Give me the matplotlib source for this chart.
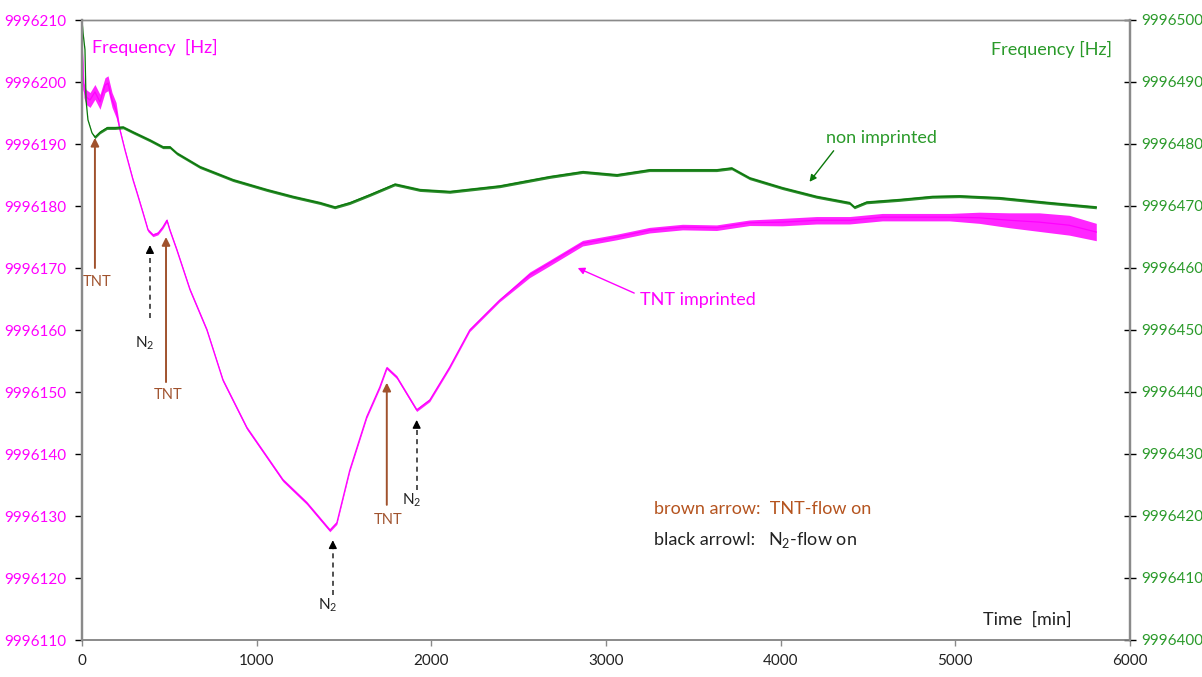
import matplotlib
matplotlib.use("Agg")
from matplotlib import pyplot as plt
from matplotlib.ticker import MultipleLocator

plt.rcParams['font.family'] = ['Lato', 'DejaVu Sans']
plt.rcParams['mathtext.fontset'] = 'custom'
plt.rcParams['mathtext.rm'] = 'Lato'

# TNT imprinted sensor (left axis), time in min, frequency in Hz
mag_t = [0, 11, 23, 46, 74, 103, 132, 149, 172, 195, 217, 246, 292, 315, 349,
         378, 406, 435, 463, 486, 503, 543, 618, 715, 807, 944, 1150, 1287, 1419, 1459,
         1533, 1630, 1705, 1745, 1802, 1916, 1991, 2105, 2220, 2391, 2563, 2677, 2866, 3061, 3249,
         3438, 3633, 3822, 4010, 4205, 4394, 4582, 4777, 4966, 5137, 5309, 5480, 5652, 5807]
mag_f = [9996206.0, 9996198.7, 9996197.6, 9996197.1, 9996198.4, 9996196.8, 9996199.5, 9996199.8,
         9996197.1, 9996195.5, 9996192.3, 9996189.0, 9996184.2, 9996182.1, 9996178.9, 9996176.1,
         9996175.3, 9996175.6, 9996176.6, 9996177.7, 9996176.1, 9996172.9, 9996166.5, 9996160.0,
         9996151.9, 9996144.2, 9996135.8, 9996132.1, 9996127.7, 9996128.9, 9996137.4, 9996146.0,
         9996150.8, 9996153.9, 9996152.4, 9996147.1, 9996148.7, 9996154.0, 9996160.0, 9996164.8,
         9996168.9, 9996170.8, 9996174.0, 9996175.0, 9996176.1, 9996176.6, 9996176.5, 9996177.3,
         9996177.4, 9996177.7, 9996177.7, 9996178.2, 9996178.2, 9996178.2, 9996178.1, 9996177.7,
         9996177.4, 9996176.9, 9996175.8]
# half width of the noise band seen in the picture
mag_noise = [1.2] * 10 + [0.25] * 30 + [0.45] * 8 + [0.6] * 6 + [0.9, 1.2, 1.5, 1.6, 1.4]

# non imprinted sensor (right axis)
grn_t = [0, 6, 17, 23, 34, 57, 74, 103, 143, 189, 235, 292, 389, 463, 503,
         543, 675, 864, 1058, 1207, 1362, 1447, 1533, 1648, 1791, 1934, 2105, 2391, 2677, 2866,
         3061, 3249, 3438, 3633, 3719, 3822, 4010, 4205, 4394, 4422, 4491, 4680, 4868, 5023, 5252,
         5538, 5807]
grn_f = [9996500.0, 9996497.9, 9996495.2, 9996487.1, 9996483.9, 9996481.8, 9996481.1, 9996481.9,
         9996482.6, 9996482.6, 9996482.7, 9996481.9, 9996480.6, 9996479.5, 9996479.5, 9996478.5,
         9996476.3, 9996474.2, 9996472.6, 9996471.5, 9996470.5, 9996469.8, 9996470.5, 9996471.8,
         9996473.5, 9996472.6, 9996472.3, 9996473.2, 9996474.7, 9996475.5, 9996475.0, 9996475.8,
         9996475.8, 9996475.8, 9996476.1, 9996474.5, 9996472.9, 9996471.5, 9996470.5, 9996469.8,
         9996470.6, 9996471.0, 9996471.5, 9996471.6, 9996471.3, 9996470.5, 9996469.8]
grn_noise = [0.05] * 6 + [0.25] * 41

# flow switching events: (time, arrow tip, arrow tail, label y) on left axis
tnt_events = [(74, 9996191.0, 9996170.0, 9996167.7),
              (481, 9996175.0, 9996151.6, 9996149.5),
              (1745, 9996151.5, 9996131.8, 9996129.4)]
n2_events = [(389, 9996173.7, 9996161.9, 9996157.9),
             (1436, 9996126.1, 9996117.3, 9996115.6),
             (1916, 9996145.5, 9996134.2, 9996132.6)]

MAG = '#ff00ff'
GRN_LINE = '#0a780a'
GRN_TXT = '#2a9a2a'
BROWN = '#a0522d'
GRAY = '#8a8a8a'

fig = plt.figure(figsize=(12.02, 6.77), dpi=100)
ax1 = fig.add_axes([82 / 1202, 37 / 677, 1048 / 1202, 620 / 677])
ax2 = ax1.twinx()

ax1.fill_between(mag_t, [f - n for f, n in zip(mag_f, mag_noise)],
                 [f + n for f, n in zip(mag_f, mag_noise)], color=MAG, lw=0, alpha=0.85)
ax1.plot(mag_t, mag_f, color=MAG, lw=0.9)
ax2.fill_between(grn_t, [f - n for f, n in zip(grn_f, grn_noise)],
                 [f + n for f, n in zip(grn_f, grn_noise)], color=GRN_LINE, lw=0, alpha=0.85)
ax2.plot(grn_t, grn_f, color=GRN_LINE, lw=0.9)

ax1.set_xlim(0, 6000)
ax1.set_ylim(9996110, 9996210)
ax2.set_ylim(9996400, 9996500)
ax1.xaxis.set_major_locator(MultipleLocator(1000))
ax1.yaxis.set_major_locator(MultipleLocator(10))
ax2.yaxis.set_major_locator(MultipleLocator(10))
ax1.ticklabel_format(useOffset=False, style='plain')
ax2.ticklabel_format(useOffset=False, style='plain')

for ax in (ax1, ax2):
    for s in ax.spines.values():
        s.set_color(GRAY)
    ax.spines['left'].set_linewidth(1.6)
    ax.spines['right'].set_linewidth(1.6)
    ax.spines['top'].set_linewidth(1.0)
    ax.spines['bottom'].set_linewidth(1.2)

ax1.tick_params(axis='y', direction='out', length=5, width=1, color='black',
                labelcolor=MAG, labelsize=11, pad=6)
ax1.tick_params(axis='x', direction='out', length=4, width=1, color=GRAY,
                labelcolor='#222222', labelsize=11, pad=6)
ax2.tick_params(axis='y', direction='inout', length=8, width=1, color='black',
                labelcolor=GRN_TXT, labelsize=11, pad=4)

# axis titles inside the plot
ax1.text(0.01, 0.955, 'Frequency  [Hz]', transform=ax1.transAxes, color=MAG,
         fontsize=13, va='center', ha='left')
ax1.text(0.983, 0.952, 'Frequency [Hz]', transform=ax1.transAxes, color=GRN_TXT,
         fontsize=13, va='center', ha='right')
ax1.text(0.944, 0.032, 'Time  [min]', transform=ax1.transAxes, color='#222222',
         fontsize=13, va='center', ha='right')

# event arrows
for t, tip, tail, ly in tnt_events:
    ax1.annotate('', xy=(t, tip), xytext=(t, tail),
                 arrowprops=dict(arrowstyle='-|>', color=BROWN, lw=1.4,
                                 mutation_scale=12, shrinkA=0, shrinkB=0))
    ax1.text(t + 10, ly, 'TNT', color=BROWN, fontsize=10.5, ha='center', va='center')
for t, tip, tail, ly in n2_events:
    ax1.plot([t, t], [tail, tip - 1.0], color='#333333', lw=1.2, ls=(0, (3, 2.5)))
    ax1.annotate('', xy=(t, tip), xytext=(t, tip - 1.2),
                 arrowprops=dict(arrowstyle='-|>', color='black', lw=1.0,
                                 mutation_scale=12, shrinkA=0, shrinkB=0))
    ax1.text(t - 30, ly, r'N$_\mathregular{2}$', color='#222222', fontsize=11,
             ha='center', va='center')

# curve labels
ax1.annotate('TNT imprinted', xy=(2838, 9996170.0), xytext=(3192, 9996164.8),
             color=MAG, fontsize=13, va='center', ha='left',
             arrowprops=dict(arrowstyle='-|>', color=MAG, lw=1.0, mutation_scale=10,
                             shrinkA=2, shrinkB=0, relpos=(0, 0.8)))
ax2.annotate('non imprinted', xy=(4165, 9996473.9), xytext=(4262, 9996481.0),
             color=GRN_TXT, fontsize=13, va='center', ha='left',
             arrowprops=dict(arrowstyle='-|>', color=GRN_LINE, lw=1.0, mutation_scale=10,
                             shrinkA=2, shrinkB=0, relpos=(0.1, 0)))

# legend text for the arrows
ax1.text(0.546, 0.211, 'brown arrow:  TNT-flow on', transform=ax1.transAxes,
         color='#b5541f', fontsize=13, va='center', ha='left')
ax1.text(0.546, 0.161, 'black arrowl:', transform=ax1.transAxes,
         color='#222222', fontsize=13, va='center', ha='left')
ax1.text(0.655, 0.161, r'N$_\mathregular{2}$-flow on', transform=ax1.transAxes,
         color='#222222', fontsize=13, va='center', ha='left')

plt.savefig('out.png', dpi=100)
